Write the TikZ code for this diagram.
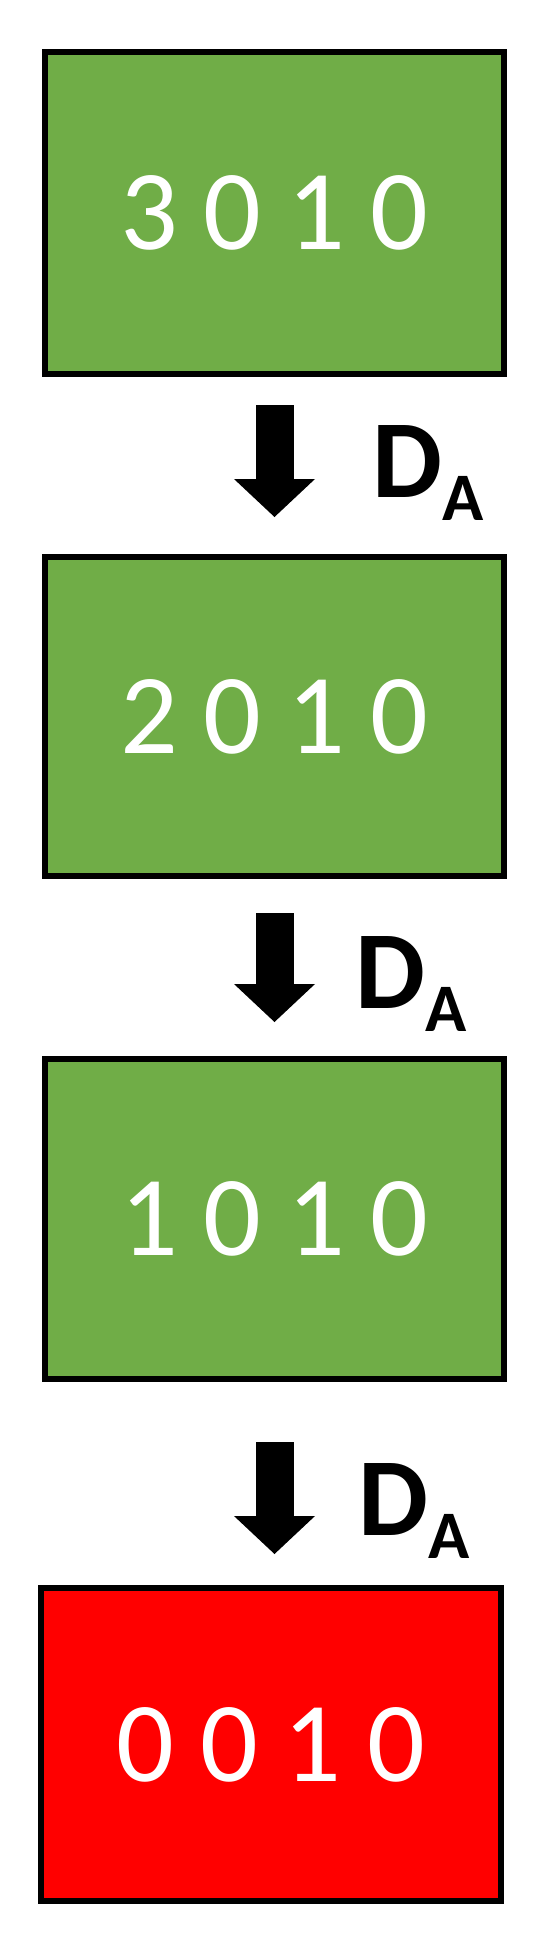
\documentclass[tikz,border=0pt]{standalone}
\usepackage{fontspec}
\setmainfont{Carlito}
\usetikzlibrary{arrows.meta}
\definecolor{boxgreen}{RGB}{112,173,71}
\definecolor{boxred}{RGB}{255,0,0}
\newcommand{\DAsub}{D\raisebox{-23pt}{\fontsize{68}{68}\selectfont A}}

\begin{document}
\begin{tikzpicture}[x=1pt,y=-1pt,
    state/.style={draw=black, line width=6pt, fill=#1, text=white, inner sep=0pt,
      font=\fontsize{114}{114}\selectfont},
    blockarrow/.style={line width=38pt, -{Triangle[width=81pt,length=38pt,line width=0pt]}},
    dlabel/.style={anchor=base west, inner sep=0pt, font=\fontsize{111}{111}\selectfont\bfseries}]
      \useasboundingbox (0,0) rectangle (556,1944);
      % boxes
      \foreach \n/\x/\y/\w/\h/\val/\col in {1/274.5/213/459/322/3 0 1 0/boxgreen,
          2/274.5/716.5/459/319/2 0 1 0/boxgreen, 3/274.5/1219/459/320/1 0 1 0/boxgreen,
          4/271/1744.5/460/313/0 0 1 0/boxred} {
        \node[state=\col, minimum width=\w pt, minimum height=\h pt] (b\n) at (\x,\y) {\val};
      }
      % arrows
      \foreach \a/\b/\s/\e in {1/2/28/37, 2/3/34/34, 3/4/60/31} {
        \draw[blockarrow, shorten <=\s pt, shorten >=\e pt] (b\a.south) -- (b\a.south |- b\b.north);
      }
      % labels
      \foreach \n/\x/\y in {1/372/497, 2/355/1008, 3/358/1535} {
        \node[dlabel] (d\n) at (\x,\y) {\DAsub};
      }
    \end{tikzpicture}
\end{document}
